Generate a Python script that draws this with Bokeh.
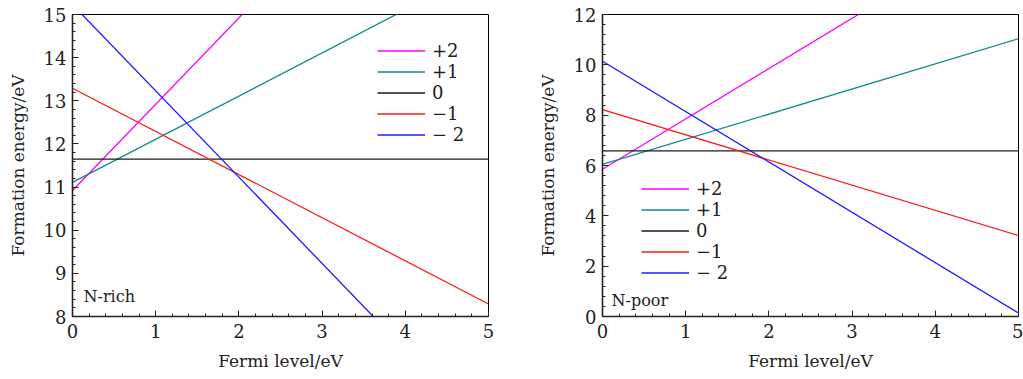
from bokeh.plotting import figure
from bokeh.layouts import row
from bokeh.models import Range1d, SingleIntervalTicker, Label
from bokeh.embed import file_html
from bokeh.resources import INLINE

# Fermi level endpoints
fermi = [0, 5]
labels = ["+2", "+1", "0", "\u22121", "\u2212 2"]
colors = ["#ff00ff", "#138a8a", "#1a1a1a", "#ff1a1a", "#1a1aff"]

# N-rich: formation energy at Fermi level 0 and 5 eV
rich_p2 = [10.92, 20.92]
rich_p1 = [11.11, 16.11]
rich_0 = [11.65, 11.65]
rich_m1 = [13.29, 8.29]
rich_m2 = [15.23, 5.23]

# N-poor
poor_p2 = [5.85, 15.85]
poor_p1 = [6.04, 11.04]
poor_0 = [6.58, 6.58]
poor_m1 = [8.22, 3.22]
poor_m2 = [10.14, 0.14]

FONT = "DejaVu Serif"


def make(series, yr, yint, width, left, legend_loc, tag, tag_xy):
    p = figure(width=width, height=379, output_backend="svg", toolbar_location=None,
               x_range=Range1d(0, 5), y_range=Range1d(*yr),
               min_border_left=left, min_border_right=width - left - 416,
               min_border_top=14, min_border_bottom=63)
    p.xgrid.visible = False
    p.ygrid.visible = False
    p.outline_line_color = "black"
    p.outline_line_width = 1
    p.background_fill_color = "white"
    p.border_fill_color = "white"
    for ys, lab, c in zip(series, labels, colors):
        p.line(fermi, ys, line_color=c, line_width=1.3, legend_label=lab)
    p.xaxis.ticker = SingleIntervalTicker(interval=1, num_minor_ticks=5)
    p.yaxis.ticker = SingleIntervalTicker(interval=yint, num_minor_ticks=5)
    for ax in (p.xaxis[0], p.yaxis[0]):
        ax.major_tick_in = 6
        ax.major_tick_out = 0
        ax.minor_tick_in = 3
        ax.minor_tick_out = 0
        ax.axis_line_width = 1.6
        ax.axis_line_color = "#222222"
        ax.major_tick_line_color = "#222222"
        ax.minor_tick_line_color = "#222222"
        ax.major_label_text_font = FONT
        ax.major_label_text_font_size = "18px"
        ax.major_label_text_color = "#222222"
        ax.axis_label_text_font = FONT
        ax.axis_label_text_font_size = "17px"
        ax.axis_label_text_font_style = "normal"
        ax.axis_label_text_color = "#222222"
    p.xaxis.axis_label = "Fermi level/eV"
    p.yaxis.axis_label = "Formation energy/eV"
    p.xaxis.major_label_standoff = 7
    p.yaxis.major_label_standoff = 6
    p.xaxis.axis_label_standoff = 10
    p.yaxis.axis_label_standoff = 13
    lg = p.legend[0]
    lg.location = legend_loc
    lg.margin = 0
    lg.padding = 0
    lg.spacing = 0
    lg.glyph_width = 48
    lg.glyph_height = 21
    lg.label_height = 21
    lg.label_standoff = 7
    lg.label_text_font = FONT
    lg.label_text_font_size = "18px"
    lg.label_text_color = "#222222"
    lg.border_line_color = None
    lg.background_fill_alpha = 0
    p.add_layout(Label(x=tag_xy[0], y=tag_xy[1], x_units="screen", y_units="screen",
                       text=tag, text_font=FONT, text_font_size="16px",
                       text_color="#222222", text_baseline="middle"))
    return p


p1 = make([rich_p2, rich_p1, rich_0, rich_m1, rich_m2], (8, 15), 1, 511, 72,
          (305, 171), "N-rich", (11, 20))
p2 = make([poor_p2, poor_p1, poor_0, poor_m1, poor_m2], (0, 12), 2, 512, 91,
          (39, 33), "N-poor", (9, 16))

layout = row(p1, p2, spacing=0)
open("out.html", "w").write(file_html(layout, INLINE))
